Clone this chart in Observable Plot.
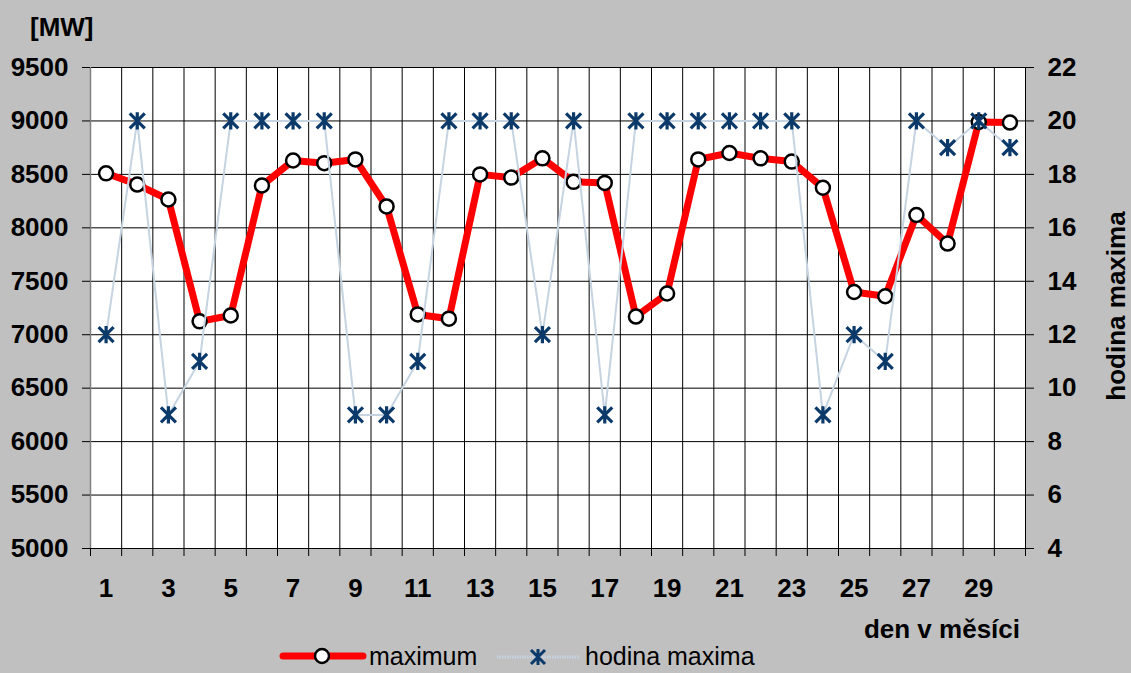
<!DOCTYPE html>
<html>
<head>
<meta charset="utf-8">
<script src="https://cdn.jsdelivr.net/npm/d3@7"></script>
<script src="https://cdn.jsdelivr.net/npm/@observablehq/plot@0.6"></script>
<style>
  html, body { margin: 0; padding: 0; background: #C0C0C0; }
  #wrap { position: relative; width: 1131px; height: 673px; overflow: hidden; background: #C0C0C0; }
  #wrap svg { display: block; }
  #overlay { position: absolute; left: 0; top: 0; pointer-events: none; }
</style>
</head>
<body>
<div id="wrap"></div>
<script>
// ---- data ----
const days = d3.range(1, 31);
const maxMW = [8510, 8405, 8265, 7125, 7180, 8396, 8630, 8605, 8640, 8200,
               7190, 7150, 8500, 8470, 8650, 8430, 8420, 7170, 7386, 8640,
               8700, 8650, 8620, 8375, 7400, 7360, 8120, 7853, 8990, 8985];
const hourMax = [12, 20, 9, 11, 20, 20, 20, 20, 9, 9,
                 11, 20, 20, 20, 12, 20, 9, 20, 20, 20,
                 20, 20, 20, 9, 12, 11, 20, 19, 20, 19];
const mwTicks = [5000, 5500, 6000, 6500, 7000, 7500, 8000, 8500, 9000, 9500];
const hourTicks = [4, 6, 8, 10, 12, 14, 16, 18, 20, 22];
const dayTickLabels = [1, 3, 5, 7, 9, 11, 13, 15, 17, 19, 21, 23, 25, 27, 29];
const labels = { yLeft: "[MW]", yRight: "hodina maxima", x: "den v měsíci",
                 s1: "maximum", s2: "hodina maxima" };

// hour -> MW axis mapping (right axis 4..22 aligned with left 5000..9500)
const h2mw = h => 5000 + (h - 4) * 250;
const mw2h = v => (v - 5000) / 250 + 4;

const rows = days.map((d, i) => ({ day: d, mw: maxMW[i], hour: hourMax[i], hmw: h2mw(hourMax[i]) }));
const boundaries = d3.range(0.5, 31, 1);

const star = {
  draw(ctx, size) {
    const r = Math.sqrt(size / Math.PI);
    ctx.moveTo(-r, -r); ctx.lineTo(r, r);
    ctx.moveTo(-r, r); ctx.lineTo(r, -r);
    ctx.moveTo(0, -r * 1.15); ctx.lineTo(0, r * 1.15);
  }
};

const FONT = "'Liberation Sans', Arial, Helvetica, sans-serif";

const chart = Plot.plot({
  width: 1131,
  height: 673,
  marginLeft: 90,
  marginRight: 106,
  marginTop: 67,
  marginBottom: 125,
  style: { background: "#C0C0C0", fontFamily: FONT, fontSize: "26px", fontWeight: "bold", color: "black" },
  x: { type: "linear", domain: [0.5, 30.5] },
  y: { type: "linear", domain: [5000, 9500] },
  marks: [
    Plot.frame({ fill: "white", stroke: null }),
    Plot.ruleX(boundaries, { stroke: "#000", strokeWidth: 1 }),
    Plot.ruleY(mwTicks, { stroke: "#000", strokeWidth: 1 }),
    Plot.ruleX([0.5], { stroke: "#808080", strokeWidth: 1.5 }),
    Plot.axisY({ anchor: "left", ticks: mwTicks, tickSize: 8, tickPadding: 14, label: null,
                 fontSize: 26, fontWeight: "bold", tickFormat: d => String(d) }),
    Plot.axisY({ anchor: "right", ticks: hourTicks.map(h2mw), tickSize: 8, tickPadding: 14, label: null,
                 fontSize: 26, fontWeight: "bold", tickFormat: v => String(mw2h(v)) }),
    Plot.axisX({ anchor: "bottom", ticks: boundaries, tickSize: 8, tickFormat: () => "", label: null }),
    Plot.axisX({ anchor: "bottom", ticks: dayTickLabels, tickSize: 0, tickPadding: 30, label: null,
                 fontSize: 26, fontWeight: "bold", tickFormat: d => String(d) }),
    Plot.line(rows, { x: "day", y: "mw", stroke: "#FF0000", strokeWidth: 7, strokeLinejoin: "round", strokeLinecap: "round" }),
    Plot.dot(rows, { x: "day", y: "mw", r: 7, fill: "white", stroke: "black", strokeWidth: 2.5 }),
    Plot.line(rows, { x: "day", y: "hmw", stroke: "#C6D3E1", strokeWidth: 2 }),
    Plot.dot(rows, { x: "day", y: "hmw", symbol: star, r: 7.5, stroke: "#0B3A6A", strokeWidth: 3.2, fill: "none" })
  ]
});

const wrap = document.getElementById("wrap");
wrap.appendChild(chart);

// axis titles + legend overlay
const ov = d3.select(wrap).append("svg").attr("id", "overlay").attr("width", 1131).attr("height", 673)
  .style("font-family", FONT);

ov.append("text").attr("x", 30).attr("y", 36).attr("font-size", 26).attr("font-weight", "bold").text(labels.yLeft);
ov.append("text").attr("x", 1020).attr("y", 638).attr("text-anchor", "end").attr("font-size", 26).attr("font-weight", "bold").text(labels.x);
ov.append("text").attr("transform", "translate(1125,306) rotate(-90)").attr("text-anchor", "middle")
  .attr("font-size", 26).attr("font-weight", "bold").text(labels.yRight);

// legend
const lg = ov.append("g");
lg.append("line").attr("x1", 283).attr("x2", 363).attr("y1", 656).attr("y2", 656)
  .attr("stroke", "#FF0000").attr("stroke-width", 7).attr("stroke-linecap", "round");
lg.append("circle").attr("cx", 322).attr("cy", 656).attr("r", 7).attr("fill", "white").attr("stroke", "black").attr("stroke-width", 2.5);
lg.append("text").attr("x", 369).attr("y", 665).attr("font-size", 25).text(labels.s1);
lg.append("line").attr("x1", 497).attr("x2", 580).attr("y1", 657).attr("y2", 657)
  .attr("stroke", "#C6D3E1").attr("stroke-width", 3).attr("stroke-dasharray", "1.5,1");
lg.append("path").attr("transform", "translate(538,657)")
  .attr("d", "M-7,-7L7,7M-7,7L7,-7M0,-8L0,8").attr("stroke", "#0B3A6A").attr("stroke-width", 3).attr("fill", "none");
lg.append("text").attr("x", 585).attr("y", 665).attr("font-size", 25).text(labels.s2);
</script>
</body>
</html>
